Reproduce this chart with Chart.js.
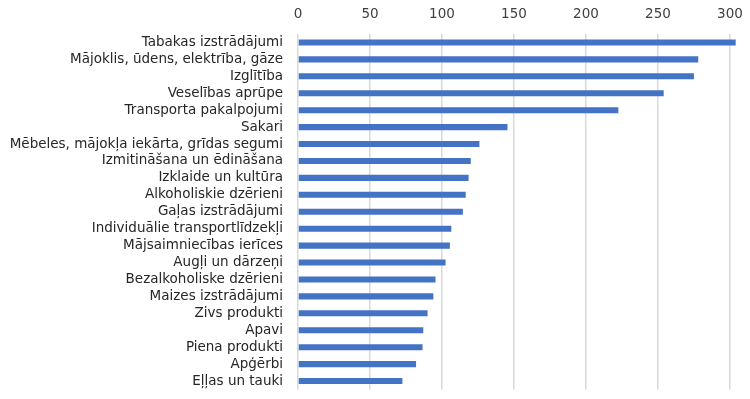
<!DOCTYPE html>
<html>
<head>
<meta charset="utf-8">
<script src="https://cdn.jsdelivr.net/npm/chart.js@4"></script>
<style>
html,body{margin:0;padding:0;background:#fff;}
#wrap{width:750px;height:399px;position:relative;}
</style>
</head>
<body>
<div id="wrap"><canvas id="c" width="750" height="399"></canvas></div>
<script>
const categories = [
  "Tabakas izstrādājumi",
  "Mājoklis, ūdens, elektrība, gāze",
  "Izglītība",
  "Veselības aprūpe",
  "Transporta pakalpojumi",
  "Sakari",
  "Mēbeles, mājokļa iekārta, grīdas segumi",
  "Izmitināšana un ēdināšana",
  "Izklaide un kultūra",
  "Alkoholiskie dzērieni",
  "Gaļas izstrādājumi",
  "Individuālie transportlīdzekļi",
  "Mājsaimniecības ierīces",
  "Augļi un dārzeņi",
  "Bezalkoholiske dzērieni",
  "Maizes izstrādājumi",
  "Zivs produkti",
  "Apavi",
  "Piena produkti",
  "Apģērbi",
  "Eļļas un tauki"
];
const values = [304, 278, 275, 254, 222.5, 145.5, 126, 120, 118.5, 116.5, 114.5, 106.5, 105.5, 102.5, 95.5, 94, 90, 87, 86.5, 82, 72.5];
const tickValues = [0, 50, 100, 150, 200, 250, 300];

const FONT = "'DejaVu Sans', Verdana, sans-serif";

new Chart(document.getElementById('c'), {
  type: 'bar',
  data: {
    labels: categories,
    datasets: [{
      data: values,
      backgroundColor: '#4472C4',
      borderWidth: 0,
      barPercentage: 0.72,
      categoryPercentage: 0.5
    }]
  },
  options: {
    indexAxis: 'y',
    responsive: false,
    animation: false,
    layout: { padding: { left: 0, right: 10, top: 0, bottom: 9.5 } },
    plugins: { legend: { display: false }, tooltip: { enabled: false } },
    scales: {
      x: {
        position: 'top',
        min: 0,
        max: 307,
        afterBuildTicks: (axis) => { axis.ticks = tickValues.map(v => ({ value: v })); },
        afterFit: (axis) => { axis.height = 34; axis.paddingLeft = 0; axis.paddingRight = 0; },
        grid: { color: '#d9d9d9', lineWidth: 1.5, drawTicks: false },
        border: { display: false },
        ticks: { color: '#404040', font: { family: FONT, size: 13.5 }, padding: 11, maxRotation: 0 }
      },
      y: {
        afterFit: (axis) => { axis.width = 298; axis.paddingTop = 0; axis.paddingBottom = 0; },
        grid: { display: false, drawTicks: false },
        border: { display: false },
        ticks: { color: '#262626', font: { family: FONT, size: 13.5 }, padding: 15, autoSkip: false }
      }
    }
  }
});
</script>
</body>
</html>
